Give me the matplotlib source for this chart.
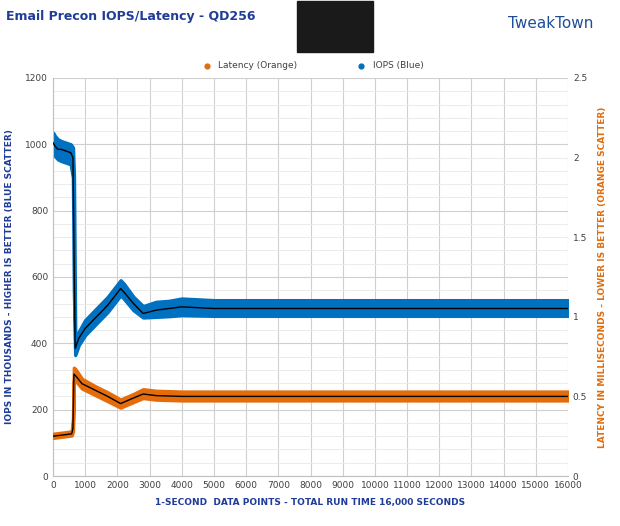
import matplotlib.pyplot as plt
from matplotlib.patches import Rectangle

BLUE = '#0070c0'
ORANGE = '#e46c0a'
NAVY = '#1f3c99'

# IOPS (thousands) trend and scatter envelope
iops_t = [0, 60, 150, 250, 400, 550, 620, 650, 690, 800, 1000, 1300, 1700, 2100, 2200, 2500, 2800, 3200, 3600, 4000, 5000, 7000, 9000, 11000, 13000, 15000, 16000]
iops_mid = [1005, 995, 985, 985, 980, 975, 960, 700, 385, 415, 445, 475, 515, 565, 555, 520, 490, 500, 505, 510, 505, 505, 505, 505, 505, 505, 505]
iops_lo = [980, 965, 955, 950, 945, 940, 900, 560, 365, 395, 425, 455, 495, 545, 535, 500, 478, 480, 482, 485, 483, 483, 483, 483, 483, 483, 483]
iops_hi = [1035, 1025, 1015, 1010, 1005, 1000, 990, 900, 410, 435, 470, 500, 540, 590, 580, 540, 512, 525, 528, 535, 530, 530, 530, 530, 530, 530, 530]

# Latency (ms)
lat_t = [0, 200, 400, 580, 620, 650, 700, 900, 1300, 1700, 2100, 2500, 2800, 3200, 4000, 6000, 9000, 12000, 16000]
lat_mid = [0.25, 0.255, 0.26, 0.265, 0.3, 0.64, 0.63, 0.58, 0.54, 0.5, 0.455, 0.49, 0.515, 0.505, 0.5, 0.5, 0.5, 0.5, 0.5]
lat_lo = [0.24, 0.245, 0.25, 0.255, 0.28, 0.6, 0.6, 0.55, 0.51, 0.47, 0.43, 0.465, 0.49, 0.48, 0.475, 0.475, 0.475, 0.475, 0.475]
lat_hi = [0.265, 0.27, 0.275, 0.28, 0.35, 0.68, 0.67, 0.61, 0.565, 0.525, 0.48, 0.515, 0.545, 0.535, 0.53, 0.53, 0.53, 0.53, 0.53]

fig = plt.figure(figsize=(6.2, 5.26), dpi=100)
ax = fig.add_axes([53 / 620, 50 / 526, 515 / 620, 398 / 526])
ax2 = ax.twinx()

ax.set_xlim(0, 16000)
ax.set_ylim(0, 1200)
ax2.set_ylim(0, 2.5)
ax.set_xticks(range(0, 16001, 1000))
ax.set_yticks(range(0, 1201, 200))
ax.set_yticks(range(0, 1201, 40), minor=True)
ax2.set_yticks([0, 0.5, 1, 1.5, 2, 2.5])
ax2.set_yticklabels(['0', '0.5', '1', '1.5', '2', '2.5'])
ax.grid(True, which='major', color='#d0d0d0', lw=0.8)
ax.grid(True, which='minor', axis='y', color='#e8e8e8', lw=0.6)
ax.set_axisbelow(True)
for a in (ax, ax2):
    a.tick_params(which='both', labelsize=6.5, length=0, colors='#404040')
    for s in a.spines.values():
        s.set_visible(False)
ax.spines['left'].set_visible(True)
ax.spines['left'].set_color('#bfbfbf')
ax.spines['bottom'].set_visible(True)
ax.spines['bottom'].set_color('#bfbfbf')

ax.fill_between(iops_t, iops_lo, iops_hi, color=BLUE, lw=2.5, edgecolor=BLUE, zorder=2)
ax.plot(iops_t, iops_mid, color='black', lw=1, zorder=3)
ax2.fill_between(lat_t, lat_lo, lat_hi, color=ORANGE, lw=2.5, edgecolor=ORANGE, zorder=2)
ax2.plot(lat_t, lat_mid, color='black', lw=1, zorder=3)

ax.set_xlabel('1-SECOND  DATA POINTS - TOTAL RUN TIME 16,000 SECONDS', fontsize=6.5,
              color=NAVY, fontweight='bold', labelpad=6)
ax.set_ylabel('IOPS IN THOUSANDS - HIGHER IS BETTER (BLUE SCATTER)', fontsize=6.5,
              color=NAVY, fontweight='bold', labelpad=8)
ax2.set_ylabel('LATENCY IN MILLISECONDS - LOWER IS BETTER (ORANGE SCATTER)', fontsize=6.5,
               color=ORANGE, fontweight='bold', labelpad=8)

ax.scatter([], [], color=ORANGE, s=12, label='Latency (Orange)')
ax.scatter([], [], color=BLUE, s=12, label='IOPS (Blue)')
ax.legend(loc='lower center', bbox_to_anchor=(0.5, 1.0), ncol=2, frameon=False,
          fontsize=6.5, handletextpad=0.3, columnspacing=6, labelcolor='#404040')

fig.text(0.01, 0.968, 'Email Precon IOPS/Latency - QD256', fontsize=9,
         fontweight='bold', color=NAVY, va='center')
fig.text(0.82, 0.955, 'TweakTown', fontsize=11, color='#1f4e99', va='center')
fig.patches.append(Rectangle((297 / 620, 1 - 52 / 526), 76 / 620, 51 / 526,
                             transform=fig.transFigure, color='#1a1a1a'))

fig.savefig('out.png', dpi=100)
